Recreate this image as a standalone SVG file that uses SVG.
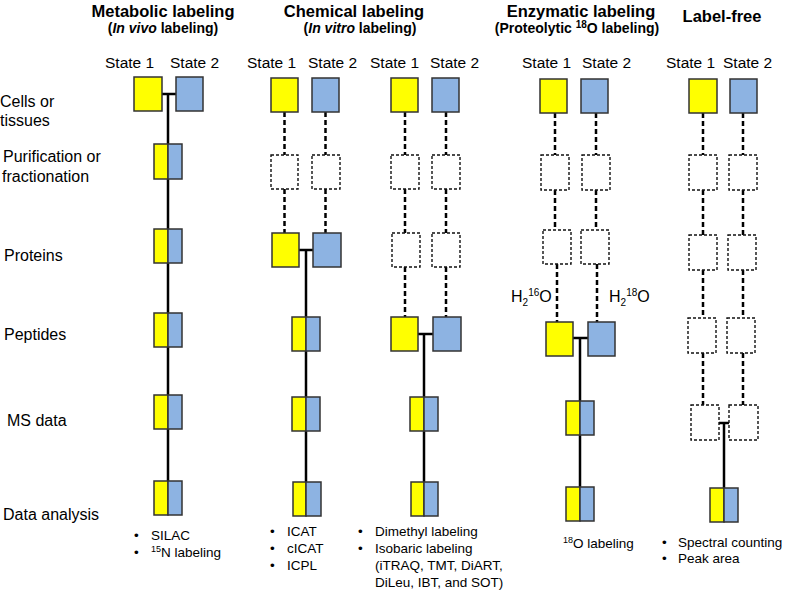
<svg xmlns="http://www.w3.org/2000/svg" width="787" height="592" viewBox="0 0 787 592">
<style>
.y{fill:#FFFF00;stroke:#333;stroke-width:1.5}
.b{fill:#8DB3E2;stroke:#333;stroke-width:1.5}
.d{fill:#fff;stroke:#111;stroke-width:1.4;stroke-dasharray:3 2}
.s{stroke:#000;stroke-width:2.5;fill:none}
.ds{stroke:#000;stroke-width:2.5;fill:none;stroke-dasharray:5 3}
text{font-family:"Liberation Sans",Arial,sans-serif;fill:#000}
.h{font-size:16.5px;font-weight:bold;text-anchor:middle}
.hs{font-size:14px;font-weight:bold;text-anchor:middle}
.st{font-size:15.5px}
.lb{font-size:16px}
.bt{font-size:13.5px}
</style>
<rect width="787" height="592" fill="#fff"/>

<g id="headers">
<text class="h" x="163" y="17">Metabolic labeling</text>
<text class="hs" x="163" y="33">(<tspan font-style="italic">In vivo</tspan> labeling)</text>
<text class="h" x="354" y="17">Chemical labeling</text>
<text class="hs" x="360" y="33">(<tspan font-style="italic">In vitro</tspan> labeling)</text>
<text class="h" x="581" y="17">Enzymatic labeling</text>
<text class="hs" x="577" y="33">(Proteolytic <tspan font-size="10px" dy="-5">18</tspan><tspan dy="5">O labeling)</tspan></text>
<text class="h" x="722" y="22">Label-free</text>
</g>

<g id="state-labels">
<text class="st" x="105" y="68">State 1</text>
<text class="st" x="170" y="68">State 2</text>
<text class="st" x="247" y="68">State 1</text>
<text class="st" x="308" y="68">State 2</text>
<text class="st" x="370" y="68">State 1</text>
<text class="st" x="430" y="68">State 2</text>
<text class="st" x="522" y="68">State 1</text>
<text class="st" x="582" y="68">State 2</text>
<text class="st" x="666" y="68">State 1</text>
<text class="st" x="723" y="68">State 2</text>
</g>

<g id="row-labels">
<text class="lb" x="0" y="107">Cells or</text>
<text class="lb" x="0" y="126">tissues</text>
<text class="lb" x="3" y="162">Purification or</text>
<text class="lb" x="2" y="182">fractionation</text>
<text class="lb" x="4" y="261">Proteins</text>
<text class="lb" x="4" y="340">Peptides</text>
<text class="lb" x="7" y="426">MS data</text>
<text class="lb" x="3" y="520">Data analysis</text>
</g>

<g id="connectors">
<line class="s" x1="162" y1="94" x2="176" y2="94"/>
<line class="s" x1="168" y1="94" x2="168" y2="481"/>
<line class="ds" x1="284.5" y1="112" x2="284.5" y2="155"/>
<line class="ds" x1="284.5" y1="189" x2="284.5" y2="233"/>
<line class="ds" x1="325.5" y1="112" x2="325.5" y2="155"/>
<line class="ds" x1="325.5" y1="189" x2="325.5" y2="233"/>
<line class="s" x1="299" y1="250" x2="313" y2="250"/>
<line class="s" x1="306" y1="250" x2="306" y2="482"/>
<line class="ds" x1="405" y1="112" x2="405" y2="155"/>
<line class="ds" x1="405" y1="189" x2="405" y2="233"/>
<line class="ds" x1="405" y1="267" x2="405" y2="317"/>
<line class="ds" x1="446" y1="112" x2="446" y2="155"/>
<line class="ds" x1="446" y1="189" x2="446" y2="233"/>
<line class="ds" x1="446" y1="267" x2="446" y2="317"/>
<line class="s" x1="418" y1="334" x2="433" y2="334"/>
<line class="s" x1="424" y1="334" x2="424" y2="482"/>
<line class="ds" x1="555" y1="113" x2="555" y2="155"/>
<line class="ds" x1="555" y1="190" x2="555" y2="230"/>
<line class="ds" x1="557" y1="264" x2="557" y2="322"/>
<line class="ds" x1="596" y1="113" x2="596" y2="155"/>
<line class="ds" x1="596" y1="190" x2="596" y2="230"/>
<line class="ds" x1="597" y1="264" x2="597" y2="322"/>
<line class="s" x1="573" y1="338" x2="588" y2="338"/>
<line class="s" x1="580" y1="338" x2="580" y2="487"/>
<line class="ds" x1="703" y1="113" x2="703" y2="155"/>
<line class="ds" x1="703" y1="190" x2="703" y2="235"/>
<line class="ds" x1="703" y1="270" x2="703" y2="318"/>
<line class="ds" x1="703" y1="353" x2="703" y2="405"/>
<line class="ds" x1="743" y1="113" x2="743" y2="155"/>
<line class="ds" x1="743" y1="190" x2="743" y2="235"/>
<line class="ds" x1="743" y1="270" x2="743" y2="318"/>
<line class="ds" x1="743" y1="353" x2="743" y2="405"/>
<line class="s" x1="719" y1="423" x2="729" y2="423"/>
<line class="s" x1="724" y1="423" x2="724" y2="488"/>
</g>

<g id="met-s1-cells"><rect class="y" x="134" y="77" width="28" height="34"/></g>
<g id="met-s2-cells"><rect class="b" x="176" y="77" width="27" height="34"/></g>
<g id="met-purif"><rect class="y" x="154" y="144" width="14" height="35"/><rect class="b" x="168" y="144" width="14" height="35"/></g>
<g id="met-proteins"><rect class="y" x="154" y="229" width="14" height="34"/><rect class="b" x="168" y="229" width="14" height="34"/></g>
<g id="met-peptides"><rect class="y" x="154" y="313" width="14" height="34"/><rect class="b" x="168" y="313" width="14" height="34"/></g>
<g id="met-ms"><rect class="y" x="154" y="395" width="14" height="34"/><rect class="b" x="168" y="395" width="14" height="34"/></g>
<g id="met-data"><rect class="y" x="154" y="481" width="14" height="34"/><rect class="b" x="168" y="481" width="14" height="34"/></g>

<g id="icat-s1-cells"><rect class="y" x="271" y="78" width="27" height="34"/></g>
<g id="icat-s2-cells"><rect class="b" x="312" y="78" width="27" height="34"/></g>
<g id="icat-s1-purif"><rect class="d" x="271" y="155" width="27" height="34"/></g>
<g id="icat-s2-purif"><rect class="d" x="312" y="155" width="28" height="34"/></g>
<g id="icat-s1-proteins"><rect class="y" x="272" y="233" width="27" height="34"/></g>
<g id="icat-s2-proteins"><rect class="b" x="313" y="233" width="28" height="34"/></g>
<g id="icat-peptides"><rect class="y" x="292" y="317" width="14" height="34"/><rect class="b" x="306" y="317" width="14" height="34"/></g>
<g id="icat-ms"><rect class="y" x="292" y="397" width="14" height="34"/><rect class="b" x="306" y="397" width="14" height="34"/></g>
<g id="icat-data"><rect class="y" x="293" y="482" width="13" height="34"/><rect class="b" x="306" y="482" width="15" height="34"/></g>

<g id="dm-s1-cells"><rect class="y" x="391" y="78" width="27" height="34"/></g>
<g id="dm-s2-cells"><rect class="b" x="432" y="78" width="27" height="34"/></g>
<g id="dm-s1-purif"><rect class="d" x="391" y="155" width="28" height="34"/></g>
<g id="dm-s2-purif"><rect class="d" x="432" y="155" width="28" height="34"/></g>
<g id="dm-s1-proteins"><rect class="d" x="392" y="233" width="28" height="34"/></g>
<g id="dm-s2-proteins"><rect class="d" x="432" y="233" width="28" height="34"/></g>
<g id="dm-s1-peptides"><rect class="y" x="391" y="317" width="27" height="34"/></g>
<g id="dm-s2-peptides"><rect class="b" x="433" y="317" width="28" height="34"/></g>
<g id="dm-ms"><rect class="y" x="410" y="397" width="14" height="34"/><rect class="b" x="424" y="397" width="14" height="34"/></g>
<g id="dm-data"><rect class="y" x="411" y="482" width="13" height="34"/><rect class="b" x="424" y="482" width="14" height="34"/></g>

<g id="enz-s1-cells"><rect class="y" x="540" y="79" width="27" height="34"/></g>
<g id="enz-s2-cells"><rect class="b" x="581" y="79" width="27" height="34"/></g>
<g id="enz-s1-purif"><rect class="d" x="541" y="155" width="28" height="35"/></g>
<g id="enz-s2-purif"><rect class="d" x="582" y="155" width="28" height="35"/></g>
<g id="enz-s1-proteins"><rect class="d" x="543" y="230" width="28" height="34"/></g>
<g id="enz-s2-proteins"><rect class="d" x="581" y="230" width="28" height="34"/></g>
<g id="enz-s1-peptides"><rect class="y" x="546" y="322" width="27" height="34"/></g>
<g id="enz-s2-peptides"><rect class="b" x="588" y="322" width="27" height="34"/></g>
<g id="enz-ms"><rect class="y" x="566" y="401" width="14" height="34"/><rect class="b" x="580" y="401" width="14" height="34"/></g>
<g id="enz-data"><rect class="y" x="566" y="487" width="14" height="34"/><rect class="b" x="580" y="487" width="14" height="34"/></g>
<g id="enz-water-labels">
<text x="511" y="302" font-size="16px">H<tspan font-size="10px" dy="4">2</tspan><tspan font-size="10px" dy="-10">16</tspan><tspan dy="6">O</tspan></text>
<text x="609" y="302" font-size="16px">H<tspan font-size="10px" dy="4">2</tspan><tspan font-size="10px" dy="-10">18</tspan><tspan dy="6">O</tspan></text>
</g>

<g id="lf-s1-cells"><rect class="y" x="689" y="79" width="28" height="34"/></g>
<g id="lf-s2-cells"><rect class="b" x="730" y="79" width="27" height="34"/></g>
<g id="lf-s1-purif"><rect class="d" x="689" y="155" width="28" height="35"/></g>
<g id="lf-s2-purif"><rect class="d" x="729" y="155" width="28" height="35"/></g>
<g id="lf-s1-proteins"><rect class="d" x="689" y="235" width="28" height="35"/></g>
<g id="lf-s2-proteins"><rect class="d" x="728" y="235" width="28" height="35"/></g>
<g id="lf-s1-peptides"><rect class="d" x="688" y="318" width="28" height="35"/></g>
<g id="lf-s2-peptides"><rect class="d" x="727" y="318" width="28" height="35"/></g>
<g id="lf-s1-ms"><rect class="d" x="691" y="405" width="28" height="35"/></g>
<g id="lf-s2-ms"><rect class="d" x="729" y="405" width="29" height="35"/></g>
<g id="lf-data"><rect class="y" x="710" y="488" width="14" height="34"/><rect class="b" x="724" y="488" width="14" height="34"/></g>

<g id="methods">
<text class="bt" x="134" y="540">•</text>
<text class="bt" x="151" y="540">SILAC</text>
<text class="bt" x="134" y="557">•</text>
<text class="bt" x="151" y="557"><tspan font-size="9px" dy="-5">15</tspan><tspan dy="5">N labeling</tspan></text>
<text class="bt" x="270" y="536">•</text>
<text class="bt" x="287" y="536">ICAT</text>
<text class="bt" x="270" y="553">•</text>
<text class="bt" x="287" y="553">cICAT</text>
<text class="bt" x="270" y="570">•</text>
<text class="bt" x="287" y="570">ICPL</text>
<text class="bt" x="358" y="536">•</text>
<text class="bt" x="375" y="536">Dimethyl labeling</text>
<text class="bt" x="358" y="553">•</text>
<text class="bt" x="375" y="553">Isobaric labeling</text>
<text class="bt" x="375" y="570">(iTRAQ, TMT, DiART,</text>
<text class="bt" x="375" y="587">DiLeu, IBT, and SOT)</text>
<text class="bt" x="563" y="548"><tspan font-size="9px" dy="-5">18</tspan><tspan dy="5">O labeling</tspan></text>
<text class="bt" x="662" y="547">•</text>
<text class="bt" x="678" y="547">Spectral counting</text>
<text class="bt" x="662" y="563">•</text>
<text class="bt" x="678" y="563">Peak area</text>
</g>
</svg>
